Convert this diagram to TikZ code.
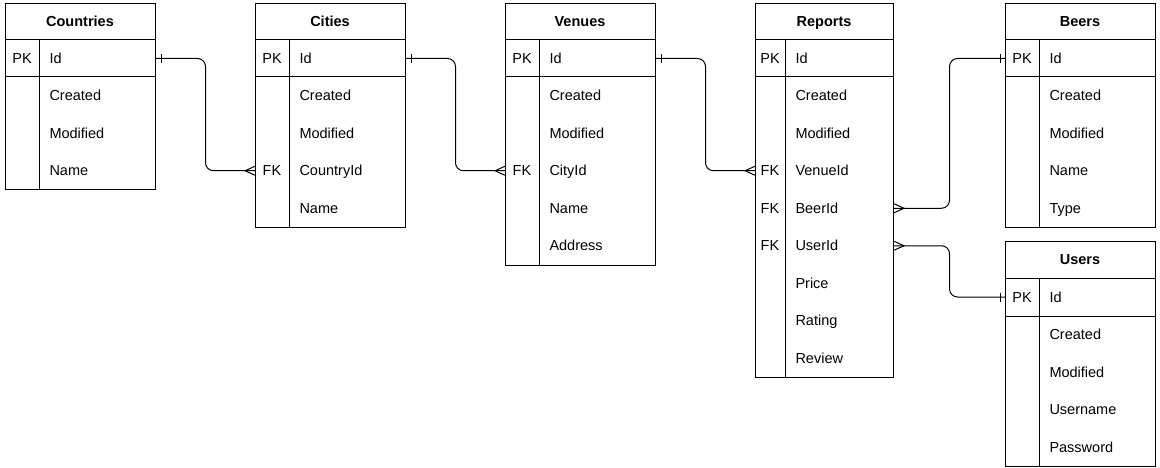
\documentclass[tikz,border=0pt]{standalone}
\usepackage{fontspec}
\setmainfont{Liberation Sans}
\usetikzlibrary{calc}
\begin{document}
\begin{tikzpicture}[x=1pt,y=-1pt,line width=1pt,
  tbl/.style={draw,inner sep=0pt,anchor=north west,minimum width=150pt},
  ttl/.style={font=\bfseries\fontsize{14.5}{17}\selectfont,inner sep=0pt,text height=10.4pt,text depth=0pt},
  fld/.style={font=\fontsize{14.5}{17}\selectfont,inner sep=0pt,anchor=west,text height=10.4pt,text depth=0pt},
  keyc/.style={font=\fontsize{14.5}{17}\selectfont,inner sep=0pt,text height=10.4pt,text depth=0pt},
  conn/.style={draw,line width=1pt,rounded corners=8pt},
  ermark/.style={draw,line width=1pt}]
\useasboundingbox (0,0) rectangle (1160,468);

% ---------- Countries ----------
\node[tbl,minimum height=186.5pt] (countries) at (5,3) {};
\draw (5,40) -- (155,40) (5,77) -- (155,77) (39,40) -- (39,189.5);
\node[ttl] (countries-t) at (80,21.5) {Countries};
\node[keyc] (cou-pk) at (22,58.5) {PK};
\node[fld] (cou-id) at (49,58.5) {Id};
\node[fld] (cou-created) at (49,95.75) {Created};
\node[fld] (cou-modified) at (49,133.25) {Modified};
\node[fld] (cou-name) at (49,170.75) {Name};

% ---------- Cities ----------
\node[tbl,minimum height=224pt] (cities) at (255,3) {};
\draw (255,40) -- (405,40) (255,77) -- (405,77) (289,40) -- (289,227);
\node[ttl] (cities-t) at (330,21.5) {Cities};
\node[keyc] (cit-pk) at (272,58.5) {PK};
\node[fld] (cit-id) at (299,58.5) {Id};
\node[fld] (cit-created) at (299,95.75) {Created};
\node[fld] (cit-modified) at (299,133.25) {Modified};
\node[keyc] (cit-fk) at (272,170.75) {FK};
\node[fld] (cit-countryid) at (299,170.75) {CountryId};
\node[fld] (cit-name) at (299,208.25) {Name};

% ---------- Venues ----------
\node[tbl,minimum height=261.5pt] (venues) at (505,3) {};
\draw (505,40) -- (655,40) (505,77) -- (655,77) (539,40) -- (539,264.5);
\node[ttl] (venues-t) at (580,21.5) {Venues};
\node[keyc] (ven-pk) at (522,58.5) {PK};
\node[fld] (ven-id) at (549,58.5) {Id};
\node[fld] (ven-created) at (549,95.75) {Created};
\node[fld] (ven-modified) at (549,133.25) {Modified};
\node[keyc] (ven-fk) at (522,170.75) {FK};
\node[fld] (ven-cityid) at (549,170.75) {CityId};
\node[fld] (ven-name) at (549,208.25) {Name};
\node[fld] (ven-address) at (549,245.75) {Address};

% ---------- Reports ----------
\node[tbl,minimum width=138pt,minimum height=374pt] (reports) at (755,3) {};
\draw (755,40) -- (893,40) (755,77) -- (893,77) (785,40) -- (785,377);
\node[ttl] (reports-t) at (824,21.5) {Reports};
\node[keyc] (rep-pk) at (770,58.5) {PK};
\node[fld] (rep-id) at (795,58.5) {Id};
\node[fld] (rep-created) at (795,95.75) {Created};
\node[fld] (rep-modified) at (795,133.25) {Modified};
\node[keyc] (rep-fk1) at (770,170.75) {FK};
\node[fld] (rep-venueid) at (795,170.75) {VenueId};
\node[keyc] (rep-fk2) at (770,208.25) {FK};
\node[fld] (rep-beerid) at (795,208.25) {BeerId};
\node[keyc] (rep-fk3) at (770,245.75) {FK};
\node[fld] (rep-userid) at (795,245.75) {UserId};
\node[fld] (rep-price) at (795,283.25) {Price};
\node[fld] (rep-rating) at (795,320.75) {Rating};
\node[fld] (rep-review) at (795,358.25) {Review};

% ---------- Beers ----------
\node[tbl,minimum height=224pt] (beers) at (1005,3) {};
\draw (1005,40) -- (1155,40) (1005,77) -- (1155,77) (1039,40) -- (1039,227);
\node[ttl] (beers-t) at (1080,21.5) {Beers};
\node[keyc] (bee-pk) at (1022,58.5) {PK};
\node[fld] (bee-id) at (1049,58.5) {Id};
\node[fld] (bee-created) at (1049,95.75) {Created};
\node[fld] (bee-modified) at (1049,133.25) {Modified};
\node[fld] (bee-name) at (1049,170.75) {Name};
\node[fld] (bee-type) at (1049,208.25) {Type};

% ---------- Users ----------
\node[tbl,minimum height=225pt] (users) at (1005,241) {};
\draw (1005,278) -- (1155,278) (1005,316) -- (1155,316) (1039,278) -- (1039,466);
\node[ttl] (users-t) at (1080,259.5) {Users};
\node[keyc] (usr-pk) at (1022,297) {PK};
\node[fld] (usr-id) at (1049,297) {Id};
\node[fld] (usr-created) at (1049,334.75) {Created};
\node[fld] (usr-modified) at (1049,372.25) {Modified};
\node[fld] (usr-username) at (1049,409.75) {Username};
\node[fld] (usr-password) at (1049,447.25) {Password};

% ---------- Connectors ----------
% Countries.Id -> Cities.CountryId
\coordinate (a1) at (cou-id -| countries.east);
\coordinate (b1) at (cit-countryid -| cities.west);
\coordinate (m1) at ($(a1)!0.5!(b1)$);
\draw[conn] (a1) -- (m1 |- a1) -- (m1 |- b1) -- (b1);
\draw[ermark] ($(a1)+(5,-4.5)$) -- ($(a1)+(5,4.5)$);
\draw[ermark] ($(b1)+(0,-4.5)$) -- ($(b1)+(-10,0)$) -- ($(b1)+(0,4.5)$);

% Cities.Id -> Venues.CityId
\coordinate (a2) at (cit-id -| cities.east);
\coordinate (b2) at (ven-cityid -| venues.west);
\coordinate (m2) at ($(a2)!0.5!(b2)$);
\draw[conn] (a2) -- (m2 |- a2) -- (m2 |- b2) -- (b2);
\draw[ermark] ($(a2)+(5,-4.5)$) -- ($(a2)+(5,4.5)$);
\draw[ermark] ($(b2)+(0,-4.5)$) -- ($(b2)+(-10,0)$) -- ($(b2)+(0,4.5)$);

% Venues.Id -> Reports.VenueId
\coordinate (a3) at (ven-id -| venues.east);
\coordinate (b3) at (rep-venueid -| reports.west);
\coordinate (m3) at ($(a3)!0.5!(b3)$);
\draw[conn] (a3) -- (m3 |- a3) -- (m3 |- b3) -- (b3);
\draw[ermark] ($(a3)+(5,-4.5)$) -- ($(a3)+(5,4.5)$);
\draw[ermark] ($(b3)+(0,-4.5)$) -- ($(b3)+(-10,0)$) -- ($(b3)+(0,4.5)$);

% Reports.BeerId -> Beers.Id
\coordinate (a4) at (rep-beerid -| reports.east);
\coordinate (b4) at (bee-id -| beers.west);
\coordinate (m4) at ($(a4)!0.5!(b4)$);
\draw[conn] (a4) -- (m4 |- a4) -- (m4 |- b4) -- (b4);
\draw[ermark] ($(a4)+(0,-4.5)$) -- ($(a4)+(10,0)$) -- ($(a4)+(0,4.5)$);
\draw[ermark] ($(b4)+(-5,-4.5)$) -- ($(b4)+(-5,4.5)$);

% Reports.UserId -> Users.Id
\coordinate (a5) at (rep-userid -| reports.east);
\coordinate (b5) at (usr-id -| users.west);
\coordinate (m5) at ($(a5)!0.5!(b5)$);
\draw[conn] (a5) -- (m5 |- a5) -- (m5 |- b5) -- (b5);
\draw[ermark] ($(a5)+(0,-4.5)$) -- ($(a5)+(10,0)$) -- ($(a5)+(0,4.5)$);
\draw[ermark] ($(b5)+(-5,-4.5)$) -- ($(b5)+(-5,4.5)$);
\end{tikzpicture}
\end{document}
